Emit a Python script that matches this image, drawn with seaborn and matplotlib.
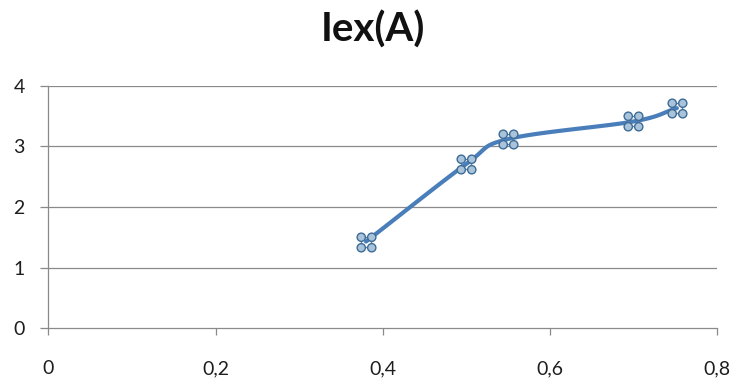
import numpy as np
import pandas as pd
import seaborn as sns
import matplotlib
matplotlib.use("Agg")
import matplotlib.pyplot as plt
from matplotlib.path import Path
from matplotlib.ticker import FuncFormatter

# Measured excitation current
x_vals = [0.38, 0.50, 0.55, 0.70, 0.752]
iex_vals = [1.43, 2.71, 3.12, 3.41, 3.63]
title_text = "Iex(A)"
x_ticks = [0, 0.2, 0.4, 0.6, 0.8]
y_ticks = [0, 1, 2, 3, 4]

LINE_BLUE = "#4a7ebb"
GRID_GREY = "#8a8a8a"
TEXT_COL = "#1e1e1e"


def smooth_curve(xs, ys, tension=0.5, n=30):
    """Catmull-Rom style smoothing through the data points."""
    px = np.asarray(xs, float)
    py = np.asarray(ys, float)
    px_ext = np.concatenate([[2 * px[0] - px[1]], px, [2 * px[-1] - px[-2]]])
    py_ext = np.concatenate([[2 * py[0] - py[1]], py, [2 * py[-1] - py[-2]]])
    out_x, out_y = [], []
    t = np.linspace(0, 1, n)
    for i in range(1, len(px_ext) - 2):
        p0 = np.array([px_ext[i - 1], py_ext[i - 1]])
        p1 = np.array([px_ext[i], py_ext[i]])
        p2 = np.array([px_ext[i + 1], py_ext[i + 1]])
        p3 = np.array([px_ext[i + 2], py_ext[i + 2]])
        c1 = p1 + (p2 - p0) * tension / 3
        c2 = p2 - (p3 - p1) * tension / 3
        b = (((1 - t) ** 3)[:, None] * p1 + (3 * (1 - t) ** 2 * t)[:, None] * c1
             + (3 * (1 - t) * t ** 2)[:, None] * c2 + (t ** 3)[:, None] * p2)
        if i > 1:
            b = b[1:]
        out_x.extend(b[:, 0])
        out_y.extend(b[:, 1])
    return np.array(out_x), np.array(out_y)


# Marker made of four small circles at the corners of a square
def four_dot_marker():
    r = 0.44
    d = 0.56
    circles = [Path.circle((sx * d, sy * d), r) for sx in (-1, 1) for sy in (-1, 1)]
    return Path.make_compound_path(*circles)


def square_outline():
    return Path([(-1, -1), (1, -1), (1, 1), (-1, 1), (-1, -1)],
                [Path.MOVETO, Path.LINETO, Path.LINETO, Path.LINETO, Path.CLOSEPOLY])


sns.set_theme(style="white")
plt.rcParams["font.family"] = ["Lato", "DejaVu Sans"]

fig = plt.figure(figsize=(7.38, 3.85), dpi=100)
ax = fig.add_axes([0.0657, 0.1473, 0.9058, 0.6301])

sx, sy = smooth_curve(x_vals, iex_vals)
curve = pd.DataFrame({"x": sx, "y": sy})
points = pd.DataFrame({"x": x_vals, "y": iex_vals})

sns.lineplot(data=curve, x="x", y="y", sort=False, color=LINE_BLUE,
             linewidth=3.0, ax=ax, zorder=3, solid_capstyle="round")
# thin square joining the four dots of each marker
sns.scatterplot(data=points, x="x", y="y", marker=square_outline(), s=7.2 ** 2,
                facecolor="none", edgecolor="#5a86ad", linewidth=1.0, ax=ax, zorder=4)
sns.scatterplot(data=points, x="x", y="y", marker=four_dot_marker(), s=13.5 ** 2,
                color="#a9c3db", edgecolor="#3d6c96", linewidth=1.0, ax=ax, zorder=5)

ax.set_xlim(0, 0.8)
ax.set_ylim(0, 4)
ax.set_xticks(x_ticks)
ax.set_yticks(y_ticks)
ax.xaxis.set_major_formatter(FuncFormatter(lambda v, p: ("%g" % round(v, 2)).replace(".", ",")))
ax.yaxis.set_major_formatter(FuncFormatter(lambda v, p: "%d" % v))

for yv in y_ticks[1:]:
    ax.axhline(yv, color=GRID_GREY, linewidth=0.9, zorder=1)

for side in ("top", "right"):
    ax.spines[side].set_visible(False)
for side in ("left", "bottom"):
    ax.spines[side].set_color(GRID_GREY)
    ax.spines[side].set_linewidth(0.9)

ax.tick_params(axis="y", which="major", direction="out", length=6, width=0.9,
               color=GRID_GREY, pad=11, labelsize=14, labelcolor=TEXT_COL, left=True)
ax.tick_params(axis="x", which="major", direction="out", length=5, width=0.9,
               color=GRID_GREY, pad=18, labelsize=14, labelcolor=TEXT_COL, bottom=True)

ax.set_xlabel("")
ax.set_ylabel("")
fig.text(0.505, 0.922, title_text, ha="center", va="center",
         fontsize=29, fontweight="bold", color="#111111")

fig.savefig("out.png", dpi=100, facecolor="white")
